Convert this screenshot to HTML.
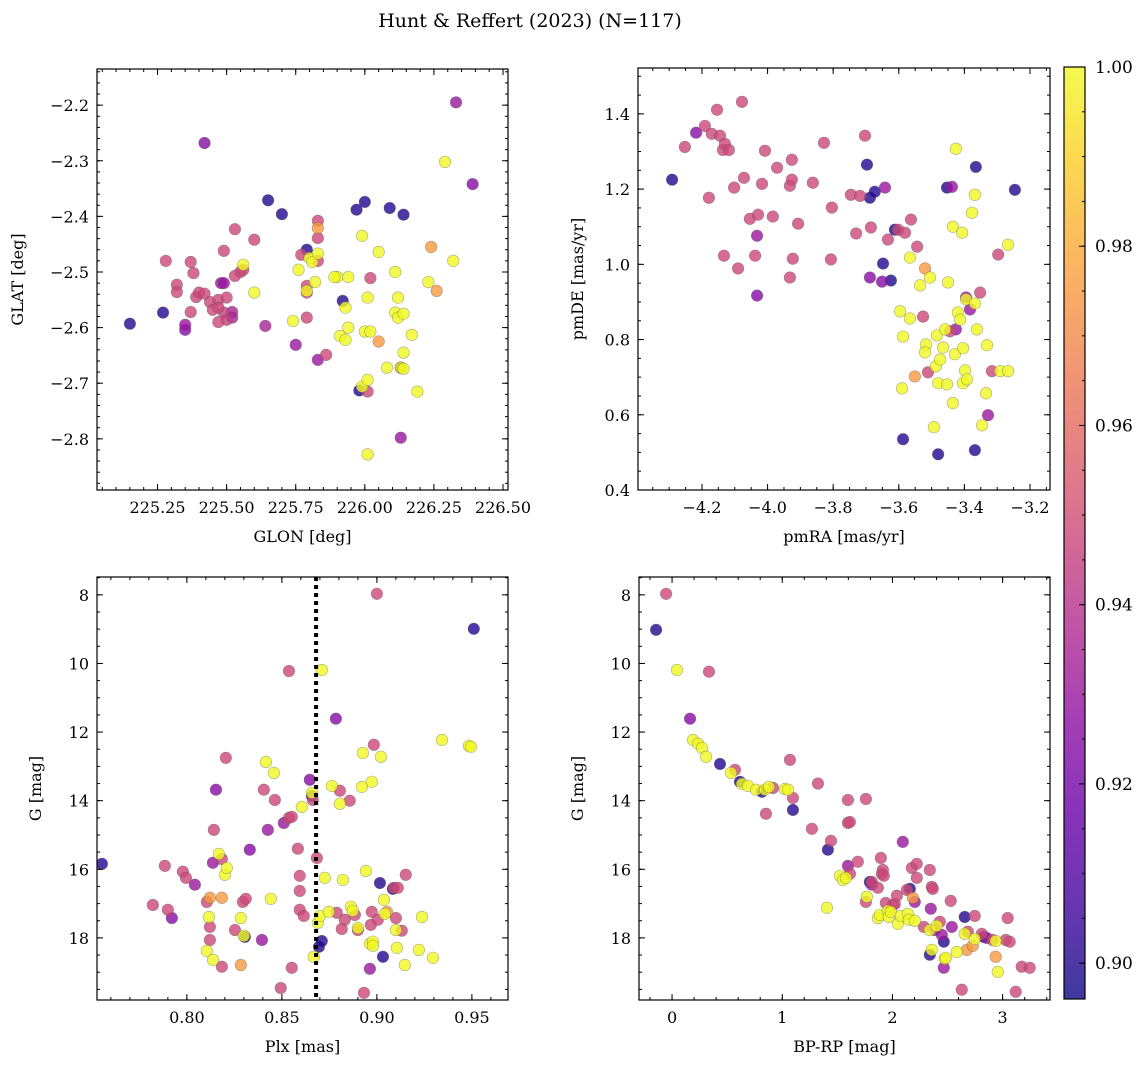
<!DOCTYPE html>
<html><head><meta charset="utf-8"><style>
html,body{margin:0;padding:0;background:#fff;}
svg text{font-family:"DejaVu Serif","Liberation Serif",serif;fill:#000;}
</style></head><body>
<svg id="fig" width="1148" height="1067" viewBox="0 0 1148 1067" xmlns="http://www.w3.org/2000/svg">
<rect width="1148" height="1067" fill="#fff"/>
<text x="530" y="27" font-size="19" text-anchor="middle">Hunt &amp; Reffert (2023) (N=117)</text>
</svg>
<script>
// ---- Panel 1: GLON vs GLAT ----
const glon1=[225.15,225.27,225.42,225.65,225.70,225.97,226.00,226.09,226.14,226.33,226.39,226.29,225.28,225.32,225.32,225.37,225.38,225.35,225.35,225.37,225.39,225.40,225.42,225.44,225.45,225.47,225.47,225.49,225.50,225.50,225.48,225.49,225.52,225.52,225.47,225.53,225.49,225.53,225.55,225.56,225.56,225.60,225.60,225.64,225.75,225.74,225.76,225.77,225.79,225.79,225.79,225.80,225.81,225.82,225.83,225.83,225.83,225.83,225.83,225.79,225.79,225.83,225.86,225.90,225.92,225.93,225.94,225.94,225.91,225.93,225.99,226.01,226.02,226.05,226.00,225.98,225.99,226.01,226.01,226.02,226.01,226.05,226.08,226.11,226.11,226.12,226.13,226.13,226.14,226.12,226.14,226.14,226.13,226.17,226.19,226.24,226.23,226.26,226.32,225.89];
const glat1=[-2.593,-2.573,-2.268,-2.371,-2.396,-2.388,-2.374,-2.385,-2.397,-2.195,-2.342,-2.302,-2.480,-2.523,-2.536,-2.482,-2.502,-2.595,-2.604,-2.572,-2.545,-2.537,-2.539,-2.554,-2.568,-2.550,-2.564,-2.573,-2.586,-2.546,-2.520,-2.520,-2.572,-2.582,-2.590,-2.423,-2.462,-2.507,-2.500,-2.487,-2.496,-2.442,-2.537,-2.597,-2.631,-2.588,-2.496,-2.469,-2.534,-2.582,-2.460,-2.475,-2.482,-2.518,-2.408,-2.439,-2.480,-2.658,-2.421,-2.525,-2.537,-2.467,-2.649,-2.509,-2.552,-2.564,-2.509,-2.600,-2.615,-2.622,-2.435,-2.546,-2.511,-2.464,-2.607,-2.713,-2.706,-2.715,-2.694,-2.607,-2.828,-2.625,-2.672,-2.573,-2.500,-2.546,-2.672,-2.672,-2.674,-2.582,-2.575,-2.645,-2.798,-2.613,-2.715,-2.455,-2.518,-2.534,-2.480,-2.509];
const prob1=[.90,.90,.925,.90,.90,.90,.90,.90,.90,.93,.925,1,.948,.948,.948,.948,.948,.93,.925,.948,.948,.948,.948,.948,.948,.948,.948,.945,.945,.948,.93,.93,.935,.935,.948,.948,.948,.948,.948,1,.948,.948,1,.935,.93,1,1,.948,1,.948,.90,1,1,1,.948,.948,.948,.93,.975,.948,.948,1,.948,1,.90,1,1,1,1,1,1,1,.948,1,1,.90,1,.948,1,1,1,.975,1,1,1,1,1,.90,1,1,1,1,.93,1,1,.975,1,.975,1,1];
// ---- Panel 2: pmRA vs pmDE ----
const pmra2=[-4.291,-4.218,-4.252,-4.191,-4.170,-4.154,-4.145,-4.136,-4.130,-4.118,-4.078,-4.179,-4.133,-4.102,-4.090,-4.072,-4.054,-4.038,-4.029,-4.032,-4.032,-4.017,-4.008,-3.984,-3.971,-3.932,-3.932,-3.926,-3.926,-3.923,-3.907,-3.862,-3.828,-3.807,-3.804,-3.746,-3.730,-3.718,-3.703,-3.697,-3.688,-3.685,-3.688,-3.673,-3.648,-3.651,-3.642,-3.633,-3.624,-3.612,-3.602,-3.581,-3.563,-3.544,-3.566,-3.596,-3.587,-3.590,-3.587,-3.566,-3.551,-3.535,-3.526,-3.520,-3.505,-3.511,-3.487,-3.517,-3.520,-3.493,-3.484,-3.480,-3.480,-3.474,-3.465,-3.459,-3.453,-3.453,-3.450,-3.444,-3.438,-3.435,-3.435,-3.429,-3.426,-3.426,-3.420,-3.413,-3.407,-3.404,-3.398,-3.404,-3.395,-3.392,-3.395,-3.383,-3.377,-3.368,-3.368,-3.365,-3.368,-3.362,-3.352,-3.346,-3.331,-3.334,-3.328,-3.316,-3.297,-3.291,-3.267,-3.267,-3.246];
const pmde2=[1.225,1.350,1.312,1.368,1.347,1.411,1.342,1.304,1.320,1.304,1.432,1.177,1.023,1.204,0.989,1.230,1.121,1.023,1.132,1.076,0.917,1.214,1.302,1.127,1.257,1.209,0.965,1.225,1.278,1.015,1.108,1.217,1.323,1.013,1.151,1.185,1.082,1.182,1.342,1.265,0.965,1.098,1.177,1.193,1.002,0.954,1.204,1.066,0.957,1.092,1.092,1.084,1.119,1.047,1.018,0.875,0.808,0.670,0.535,0.856,0.702,0.944,0.861,0.989,0.965,0.713,0.729,0.787,0.766,0.567,0.811,0.495,0.684,0.747,0.779,0.827,0.681,1.204,0.952,0.822,1.206,1.100,0.631,0.761,1.307,0.827,0.872,0.853,1.084,0.777,0.718,0.684,0.907,0.694,0.912,0.880,1.137,0.506,1.185,1.259,0.896,0.827,0.925,0.572,0.785,0.657,0.599,0.716,1.026,0.716,0.716,1.052,1.198];
const prob2=[.90,.925,.948,.948,.948,.948,.948,.948,.948,.948,.948,.948,.948,.948,.948,.948,.948,.948,.948,.93,.925,.948,.948,.948,.948,.948,.948,.948,.948,.948,.948,.948,.948,.948,.948,.948,.948,.948,.948,.90,.925,.948,.90,.90,.90,.925,.93,.948,.90,.90,.948,.948,.948,.948,1,1,1,1,.90,1,.975,1,.948,.975,1,.948,1,1,1,1,1,.90,1,1,1,1,1,.90,1,.948,.93,1,1,1,1,.93,1,1,1,1,1,1,1,1,.93,.93,1,.90,1,.90,1,1,.948,1,1,1,.93,.948,.948,1,1,1,.90];
// ---- Panel 3: Plx vs G ----
const plx3=[0.7553,0.7821,0.7900,0.7921,0.7884,0.7979,0.7995,0.8042,0.8105,0.8116,0.8121,0.8121,0.8105,0.8137,0.8142,0.8121,0.8137,0.8153,0.8168,0.8184,0.8200,0.8205,0.8210,0.8184,0.8184,0.8253,0.8284,0.8284,0.8295,0.8305,0.8310,0.8300,0.8331,0.8395,0.8405,0.8416,0.8426,0.8442,0.8458,0.8463,0.8494,0.8510,0.8537,0.8552,0.8537,0.8552,0.8584,0.8594,0.8594,0.8594,0.8605,0.8615,0.8647,0.8658,0.8658,0.8663,0.8668,0.8684,0.8689,0.8695,0.8700,0.8710,0.8710,0.8726,0.8747,0.8763,0.8784,0.8789,0.8805,0.8805,0.8815,0.8821,0.8831,0.8857,0.8863,0.8873,0.8884,0.8900,0.8900,0.8921,0.8926,0.8932,0.8942,0.8963,0.8963,0.8968,0.8973,0.8979,0.8973,0.8984,0.8979,0.9000,0.9005,0.9016,0.9021,0.9032,0.9037,0.9042,0.9053,0.9084,0.9089,0.9100,0.9100,0.9105,0.9110,0.9131,0.9147,0.9152,0.9221,0.9237,0.9295,0.9342,0.9484,0.9495,0.9510];
const g3=[15.84,17.04,17.18,17.42,15.90,16.07,16.25,16.45,16.95,17.39,17.68,18.06,18.38,15.81,14.85,16.83,18.64,13.68,15.55,15.70,16.16,12.75,15.96,18.84,16.83,17.77,18.79,17.42,16.95,17.97,16.86,17.94,15.43,18.06,13.68,12.87,14.85,16.86,13.19,13.98,19.46,14.65,14.50,14.47,10.22,18.87,15.40,16.19,16.63,17.18,14.18,17.36,13.39,13.77,13.86,13.98,18.55,15.67,17.56,18.26,17.36,18.09,10.19,16.25,17.24,13.57,11.61,17.27,13.71,14.09,17.74,16.31,17.47,14.00,17.09,17.21,17.33,17.77,17.71,13.60,12.61,19.60,16.05,18.90,18.17,17.62,17.24,18.11,13.45,12.37,18.23,7.97,17.47,16.40,12.72,18.55,16.89,17.30,17.24,16.57,16.54,17.42,17.77,18.29,16.54,17.79,18.79,16.16,18.35,17.39,18.58,12.23,12.40,12.43,8.99];
const prob3=[.90,.948,.948,.925,.948,.948,.948,.93,.948,1,.948,.948,1,.93,.948,.975,1,.925,1,.948,1,.948,1,.948,.975,.948,.975,1,.948,.90,.948,1,.925,.93,.948,1,.93,1,1,.948,.948,.93,.948,.948,.948,.948,.948,.948,.948,.948,1,.948,.925,1,.90,.948,1,.948,1,.90,1,.90,1,1,1,1,.925,.948,.948,1,.948,1,.948,.948,1,1,.948,.948,1,1,1,.948,1,.93,1,.948,.948,1,1,.948,1,.948,.948,.90,1,.90,1,1,.975,.90,.948,.948,1,1,.948,.948,1,.948,1,1,1,1,1,1,.90];
// ---- Panel 4: BP-RP vs G ----
const bprp4=[-0.145,-0.054,0.045,0.335,0.163,0.190,0.236,0.272,0.308,0.435,0.535,0.571,0.616,0.635,0.689,0.762,0.816,0.843,0.879,0.852,0.916,1.024,1.052,1.070,1.097,1.097,1.269,1.324,1.405,1.414,1.442,1.523,1.550,1.578,1.596,1.596,1.614,1.596,1.614,1.759,1.686,1.759,1.768,1.795,1.813,1.813,1.868,1.868,1.886,1.895,1.904,1.913,1.922,1.940,1.958,1.967,1.985,2.004,2.022,2.040,2.049,2.076,2.094,2.131,2.140,2.149,2.158,2.176,2.185,2.203,2.203,2.221,2.221,2.285,2.339,2.348,2.339,2.357,2.366,2.357,2.339,2.384,2.402,2.430,2.448,2.466,2.466,2.475,2.484,2.529,2.539,2.584,2.629,2.656,2.656,2.675,2.684,2.729,2.747,2.747,2.811,2.829,2.856,2.910,2.937,2.937,2.956,3.028,3.046,3.064,3.119,3.173,3.246];
const g4=[9.02,7.97,10.19,10.24,11.61,12.23,12.34,12.46,12.72,12.93,13.19,13.10,13.45,13.51,13.57,13.68,13.74,13.68,13.60,14.38,13.63,13.66,13.68,12.81,14.27,13.92,14.82,13.50,17.12,15.43,15.17,16.19,16.31,16.25,15.90,13.98,16.13,14.65,14.62,13.95,15.78,16.95,16.80,16.37,16.45,16.37,16.54,17.42,17.33,15.67,16.13,16.02,16.19,16.98,17.21,17.39,17.24,17.04,17.01,16.77,17.59,17.36,15.20,16.60,17.30,17.47,16.57,15.96,16.83,17.50,16.95,16.25,15.84,17.68,16.02,17.15,17.77,16.51,16.57,18.35,18.49,17.77,17.65,17.53,17.91,18.11,18.87,18.61,18.58,16.92,17.68,18.41,19.51,17.39,17.88,18.35,17.82,18.23,18.03,17.36,17.88,17.97,18.00,18.06,18.55,18.09,18.99,18.06,17.42,18.11,19.57,18.84,18.87];
const prob4=[.90,.948,1,.948,.925,1,1,1,1,.90,1,.948,.90,1,1,1,.90,1,1,.948,.948,1,1,.948,.90,.948,.948,.948,1,.90,.948,1,1,1,.93,.948,.948,.948,.948,.948,.948,.948,1,.90,.93,.948,.948,1,1,.948,.948,.948,.948,.948,1,1,1,.948,.948,.948,1,1,.93,.948,1,1,.90,.948,.975,1,.93,.948,.948,.948,.948,.93,1,.948,.948,1,.90,.93,1,.948,.93,.90,.93,1,1,.948,.93,1,.948,.90,1,.975,.948,.975,1,.948,.948,.90,.93,.948,.975,1,1,.948,.948,.948,.948,.948,.948];
// ---- tick labels ----
const p1xTicks=[225.25,225.50,225.75,226.00,226.25,226.50];
const p1yTicks=[-2.2,-2.3,-2.4,-2.5,-2.6,-2.7,-2.8];
const p2xTicks=[-4.2,-4.0,-3.8,-3.6,-3.4,-3.2];
const p2yTicks=[0.4,0.6,0.8,1.0,1.2,1.4];
const p3xTicks=[0.80,0.85,0.90,0.95];
const gTicks=[8,10,12,14,16,18];
const p4xTicks=[0,1,2,3];
const cbTicks=[0.90,0.92,0.94,0.96,0.98,1.00];
const plxRef=0.868;
const VMIN=0.896, VMAX=1.0;

const NS='http://www.w3.org/2000/svg';
const svg=document.getElementById('fig');
function mk(tag,attrs,parent){const e=document.createElementNS(NS,tag);for(const k in attrs)e.setAttribute(k,attrs[k]);(parent||svg).appendChild(e);return e;}
const plasma=[[13,8,135],[65,4,157],[106,0,168],[143,13,164],[177,42,144],[204,71,120],[225,100,98],[242,132,75],[252,166,54],[252,206,37],[240,249,33]];
function cmap(v){let t=(v-VMIN)/(VMAX-VMIN);t=Math.max(0,Math.min(1,t));const f=t*10,i=Math.min(9,Math.floor(f)),r=f-i;const a=plasma[i],b=plasma[i+1];return 'rgb('+a.map((c,k)=>Math.round(c+(b[k]-c)*r)).join(',')+')';}
function lin(d0,d1,r0,r1){return v=>r0+(v-d0)*(r1-r0)/(d1-d0);}
function fmt(v,dec){return (v<0?'\u2212':'')+Math.abs(v).toFixed(dec);}

function panel(o){
  const g=mk('g',{});
  
  
  const X=lin(o.xd[0],o.xd[1],o.L,o.R), Y=lin(o.yd[0],o.yd[1],o.B,o.T);
  const clipId=o.name+'-clip';
  const cp=mk('clipPath',{id:clipId},g);mk('rect',{x:o.L,y:o.T,width:o.R-o.L,height:o.B-o.T},cp);
  const pts=mk('g',{'clip-path':'url(#'+clipId+')'},g);
  
  
  const idx=o.xs.map((_,i)=>i).sort((a,b)=>o.ps[a]-o.ps[b]);
  idx.forEach(i=>{
    const c=mk('circle',{cx:X(o.xs[i]),cy:Y(o.ys[i]),r:5.8,fill:cmap(o.ps[i]),'fill-opacity':0.8,stroke:'#555','stroke-opacity':0.5,'stroke-width':0.6},pts);
    
    
  });
  if(o.vline!==undefined){
    const l=mk('line',{x1:X(o.vline),x2:X(o.vline),y1:o.T,y2:o.B,stroke:'#000','stroke-width':4,'stroke-dasharray':'4,4'},g);
    
    
  }
  for(let v=Math.ceil(o.xd[0]/o.xm-1e-6)*o.xm; v<=o.xd[1]+1e-9; v+=o.xm){const x=X(v);mk('line',{x1:x,x2:x,y1:o.B,y2:o.B-3,stroke:'#000','stroke-width':1},g);mk('line',{x1:x,x2:x,y1:o.T,y2:o.T+3,stroke:'#000','stroke-width':1},g);}
  const y0=Math.min(o.yd[0],o.yd[1]),y1=Math.max(o.yd[0],o.yd[1]);
  for(let v=Math.ceil(y0/o.ym-1e-6)*o.ym; v<=y1+1e-9; v+=o.ym){const y=Y(v);mk('line',{x1:o.L,x2:o.L+3,y1:y,y2:y,stroke:'#000','stroke-width':1},g);mk('line',{x1:o.R,x2:o.R-3,y1:y,y2:y,stroke:'#000','stroke-width':1},g);}
  o.xt.forEach(v=>{const x=X(v);mk('line',{x1:x,x2:x,y1:o.B,y2:o.B-6,stroke:'#000','stroke-width':1},g);mk('line',{x1:x,x2:x,y1:o.T,y2:o.T+6,stroke:'#000','stroke-width':1},g);
    const t=mk('text',{x:x,y:o.B+23,'font-size':16,'text-anchor':'middle'},g);t.textContent=fmt(v,o.xdec);
    
    });
  o.yt.forEach(v=>{const y=Y(v);mk('line',{x1:o.L,x2:o.L+6,y1:y,y2:y,stroke:'#000','stroke-width':1},g);mk('line',{x1:o.R,x2:o.R-6,y1:y,y2:y,stroke:'#000','stroke-width':1},g);
    const t=mk('text',{x:o.L-8,y:y+6,'font-size':16,'text-anchor':'end'},g);t.textContent=fmt(v,o.ydec);
    
    });
  const fr=mk('rect',{x:o.L,y:o.T,width:o.R-o.L,height:o.B-o.T,fill:'none',stroke:'#000','stroke-width':1.2},g);
  
  
  const xl=mk('text',{x:(o.L+o.R)/2,y:o.B+52,'font-size':16,'text-anchor':'middle'},g);xl.textContent=o.xlabel;
  
  
  const cy=(o.T+o.B)/2;
  const yl=mk('text',{x:o.ylx,y:cy,'font-size':16,'text-anchor':'middle',transform:'rotate(-90 '+o.ylx+' '+cy+')'},g);yl.textContent=o.ylabel;
  
  
}
panel({name:'glon-glat-panel',L:97,R:508,T:69,B:490,xd:[225.031,226.518],yd:[-2.892,-2.135],xs:glon1,ys:glat1,ps:prob1,xt:p1xTicks,yt:p1yTicks,xm:0.05,ym:0.02,xdec:2,ydec:1,xlabel:'GLON [deg]',ylabel:'GLAT [deg]',ylx:23});
panel({name:'proper-motion-panel',L:638,R:1050,T:68,B:490,xd:[-4.395,-3.139],yd:[0.4,1.522],xs:pmra2,ys:pmde2,ps:prob2,xt:p2xTicks,yt:p2yTicks,xm:0.05,ym:0.05,xdec:1,ydec:1,xlabel:'pmRA [mas/yr]',ylabel:'pmDE [mas/yr]',ylx:583});
panel({name:'parallax-mag-panel',L:97,R:508,T:577,B:1000,xd:[0.7527,0.9690],yd:[19.81,7.48],xs:plx3,ys:g3,ps:prob3,xt:p3xTicks,yt:gTicks,xm:0.01,ym:0.5,xdec:2,ydec:0,xlabel:'Plx [mas]',ylabel:'G [mag]',ylx:41});
panel({name:'cmd-panel',L:639,R:1050,T:577,B:1000,xd:[-0.30,3.43],yd:[19.81,7.48],xs:bprp4,ys:g4,ps:prob4,xt:p4xTicks,yt:gTicks,xm:0.2,ym:0.5,xdec:0,ydec:0,xlabel:'BP-RP [mag]',ylabel:'G [mag]',ylx:583});
// dotted reference line drawn via panel 3 scale
(function(){
  const X=lin(0.7527,0.9690,97,508);
  const l=mk('line',{x1:X(plxRef),x2:X(plxRef),y1:577,y2:1000,stroke:'#000','stroke-width':4,'stroke-dasharray':'4,4'});
  
  
})();

// colorbar
(function(){
  const L=1064,R=1085,T=67,B=999;
  const g=mk('g',{});
  
  
  const defs=mk('defs',{},g);
  const lg=mk('linearGradient',{id:'cbgrad',x1:0,y1:1,x2:0,y2:0},defs);
  for(let i=0;i<=20;i++){mk('stop',{offset:i/20,'stop-color':cmap(VMIN+(VMAX-VMIN)*i/20),'stop-opacity':0.8},lg);}
  mk('rect',{x:L,y:T,width:R-L,height:B-T,fill:'url(#cbgrad)'},g);
  const Y=lin(VMIN,VMAX,B,T);
  for(let v=0.9;v<=1.0001;v+=0.005){const y=Y(v);mk('line',{x1:R,x2:R-3,y1:y,y2:y,stroke:'#000','stroke-width':1},g);}
  cbTicks.forEach(v=>{const y=Y(v);mk('line',{x1:R,x2:R-6,y1:y,y2:y,stroke:'#000','stroke-width':1},g);
    const t=mk('text',{x:R+10,y:y+6,'font-size':17},g);t.textContent=v.toFixed(2);
    
    });
  mk('rect',{x:L,y:T,width:R-L,height:B-T,fill:'none',stroke:'#000','stroke-width':1.2},g);
})();
</script>
</body></html>
